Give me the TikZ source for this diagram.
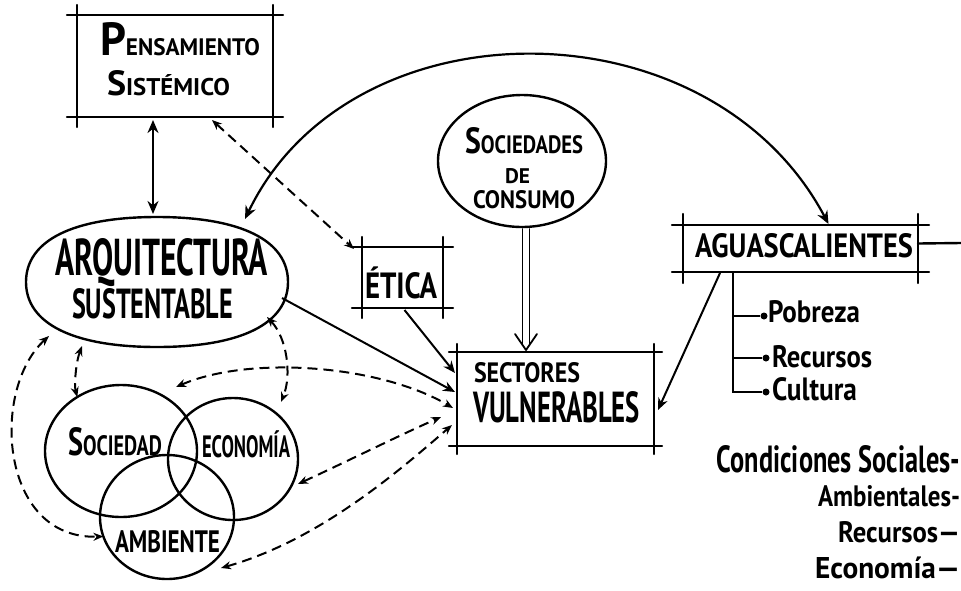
\documentclass[tikz,border=0pt]{standalone}
\usepackage{fontspec}
\setmainfont{PT Sans}
\usepackage{graphicx}
\usetikzlibrary{arrows.meta,shapes.geometric,calc}
\newcommand\hw[3]{\resizebox{#1pt}{#2pt}{#3}}
\newcommand\bigini[3]{{\fontsize{20}{20}\selectfont{\fontsize{#1}{#1}\selectfont #2}#3}}
\newcommand\skframe[2]{%
  \draw[frameline] ($(#1.north west)+(-#2,0)$) -- ($(#1.north east)+(#2,0)$);
  \draw[frameline] ($(#1.south west)+(-#2,0)$) -- ($(#1.south east)+(#2,0)$);
  \draw[frameline] ($(#1.north west)+(0,-#2)$) -- ($(#1.south west)+(0,#2)$);
  \draw[frameline] ($(#1.north east)+(0,-#2)$) -- ($(#1.south east)+(0,#2)$);}
\begin{document}
\begin{tikzpicture}[x=1pt,y=-1pt,
  frameline/.style={line width=2.4pt,line cap=round},
  boxnode/.style={rectangle,inner sep=0pt,outer sep=0pt},
  blob/.style={ellipse,draw,line width=2.4pt,inner sep=0pt,outer sep=0pt},
  txt/.style={inner sep=0pt,outer sep=0pt,anchor=base west,font=\bfseries},
  txtr/.style={inner sep=0pt,outer sep=0pt,anchor=base east,font=\bfseries},
  solidarrow/.style={line width=2pt,-{Stealth[length=12pt,width=10pt]}},
  solidboth/.style={line width=2.2pt,{Stealth[length=13pt,width=11pt]}-{Stealth[length=13pt,width=11pt]}},
  dasharrow/.style={line width=2pt,dash pattern=on 10pt off 6pt,{Stealth[length=10pt,width=8pt]}-{Stealth[length=10pt,width=8pt]}},
  dbline/.style={line width=1.8pt,line cap=round,line join=round},
  dot/.style={circle,fill,inner sep=0pt,minimum size=7pt},
  listline/.style={line width=2pt}]
\useasboundingbox (0,0) rectangle (961,590);

% ---- boxes ----
\node[boxnode,minimum width=196pt,minimum height=102pt] (ps) at (175,66) {};
\skframe{ps}{10}
\node[txt] (pt1) at (100,55) {\hw{160}{33}{\bigini{39}{P}{ENSAMIENTO}}};
\node[txt] (pt2) at (107,95) {\hw{123}{25}{\bigini{29}{S}{IST\smash{É}MICO}}};

\node[boxnode,minimum width=81pt,minimum height=61pt] (etica) at (402.5,277.5) {};
\skframe{etica}{10}
\node[txt] (et) at (365,298) {\hw{72}{26}{\smash{É}TICA}};

\node[boxnode,minimum width=197pt,minimum height=94pt] (sv) at (555.5,399) {};
\skframe{sv}{8}
\node[txt] (sv1) at (474,382) {\hw{106}{20}{SECTORES}};
\node[txt] (sv2) at (473,422) {\hw{167}{31}{VULNERABLES}};

\node[boxnode,minimum width=235pt,minimum height=47pt] (ag) at (800.5,248.5) {};
\skframe{ag}{11}
\node[txt] (agt) at (695,257) {\hw{218}{24}{AGUASCALIENTES}};
\coordinate (agr) at (961,243);
\draw[frameline] ($(ag.east)+(0,-5)$) -- (agr);

% ---- Arquitectura sustentable (full oval drawn from its node's anchors) ----
\node[boxnode,minimum width=262pt,minimum height=130pt] (arq) at (157,282) {};
\draw[line width=2.4pt]
  (arq.east) .. controls ($(arq.east)!0.64!(arq.north east)$) and ($(arq.north)!0.64!(arq.north east)$) .. (arq.north)
  .. controls ($(arq.north)!0.64!(arq.north west)$) and ($(arq.west)!0.64!(arq.north west)$) .. (arq.west)
  .. controls ($(arq.west)!0.64!(arq.south west)$) and ($(arq.south)!0.64!(arq.south west)$) .. (arq.south)
  .. controls ($(arq.south)!0.64!(arq.south east)$) and ($(arq.east)!0.64!(arq.south east)$) .. (arq.east) -- cycle;
\node[txt] (arq1) at (55,275) {\hw{213}{37}{\raisebox{0pt}[\height][0pt]{ARQUITECTURA}}};
\node[txt] (arq2) at (72,318) {\hw{161}{30}{SUSTENTABLE}};

\node[blob,minimum width=168pt,minimum height=132pt] (soc) at (522,161) {};
\node[txt] (so1) at (465,153) {\hw{118}{26}{\bigini{29}{S}{OCIEDADES}}};
\node[txt] (so2) at (505,183) {\hw{25}{15}{DE}};
\node[txt] (so3) at (473,208) {\hw{102}{18}{CONSUMO}};

\node[blob,minimum width=152pt,minimum height=132pt] (vs) at (121,451) {};
\node[blob,minimum width=130pt,minimum height=122pt] (ve) at (233,459) {};
\node[blob,minimum width=134pt,minimum height=124pt] (va) at (167,517) {};
\node[txt] (vst) at (68,455) {\hw{94}{28}{\bigini{28}{S}{OCIEDAD}}};
\node[txt] (vet) at (202,457) {\hw{88}{22}{ECONOM\smash{Í}A}};
\node[txt] (vat) at (115,552) {\hw{105}{22}{AMBIENTE}};

% ---- list ----
\coordinate (lt) at ($(ag.south west)+(50,0)$);
\node[dot] (d1) at (764,316) {};
\node[dot] (d2) at (766,358) {};
\node[dot] (d3) at (766,392) {};
\draw[listline] (lt) |- (d3);
\draw[listline] (lt |- d1) -- (d1);
\draw[listline] (lt |- d2) -- (d2);
\node[txt] (l1) at (768,322) {\hw{92}{22}{Pobreza}};
\node[txt] (l2) at (772,367) {\hw{100}{22}{Recursos}};
\node[txt] (l3) at (772,400) {\hw{85}{23}{Cultura}};

\node[txtr] (c1) at (960,472) {\hw{243}{27}{Condiciones Sociales-}};
\node[txtr] (c2) at (960,506) {\hw{142}{21}{Ambientales-}};
\node[txtr] (c3) at (960,542) {\hw{122}{21}{Recursos—}};
\node[txtr] (c4) at (960,578) {\hw{145}{21}{Econom\smash{í}a—}};

% ---- connectors ----
\draw[solidboth] ($(ps.south)+(-22,3)$) -- ($(arq.north)+(-4,-3)$);
\draw[dasharrow] ($(ps.south)+(37,3)$) -- ($(etica.north west)+(-8,2)$);
\draw[solidboth] ($(arq.center)+(88,-63)$) .. controls (350,0) and (710,0) .. ($(ag.north)+(28,-1)$);

% double-line arrow Sociedades de consumo -> Sectores
\coordinate (dbt) at ($(soc.south)+(4,2)$);
\coordinate (dbb) at ($(soc.south |- sv.north)+(4,-2)$);
\draw[dbline] ($(dbt)+(-3.5,0)$) -- ($(dbb)+(-3.5,-6)$);
\draw[dbline] ($(dbt)+(3.5,0)$) -- ($(dbb)+(3.5,-6)$);
\draw[dbline] ($(dbb)+(-11,-16)$) -- (dbb) -- ($(dbb)+(11,-16)$);

\draw[solidarrow] ($(arq.center)+(125,16)$) -- ($(sv.west)+(-2,-7)$);
\draw[solidarrow] ($(etica.south)+(2,2)$) -- ($(sv.west)+(-2,-26)$);
\draw[solidarrow] ($(ag.south west)+(37,1)$) -- ($(sv.east)+(4,11)$);

\draw[dasharrow] ($(arq.center)+(-75,64)$) .. controls (76,362) and (74,385) .. (vs.129);
\draw[dasharrow] ($(arq.center)+(110,35)$) .. controls (287,338) and (292,375) .. ($(ve.north)+(48,4)$);
\draw[dasharrow] ($(arq.center)+(-108,54)$) .. controls (-10,390) and (0,540) .. (va.197);
\draw[dasharrow] ($(vs.north)+(55,2)$) .. controls (250,355) and (380,365) .. ($(sv.west)+(-4,9)$);
\draw[dasharrow] ($(ve.east)+(0,25)$) .. controls (350,460) and (400,435) .. ($(sv.west)+(-16,18)$);
\draw[dasharrow] ($(va.east)+(-13,51)$) .. controls (320,540) and (400,470) .. ($(sv.west)+(-5,26)$);
\end{tikzpicture}
\end{document}
